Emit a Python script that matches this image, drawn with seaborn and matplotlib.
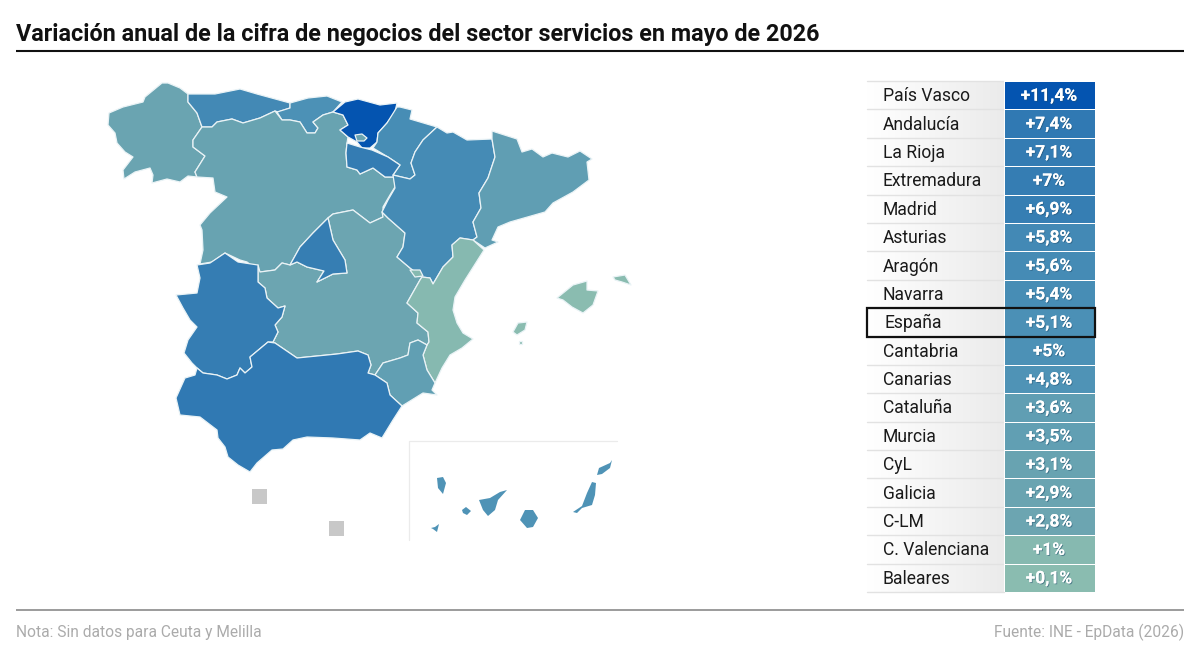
import numpy as np
import pandas as pd
import matplotlib
matplotlib.use("Agg")
import matplotlib.pyplot as plt
import matplotlib.patheffects as pe
from matplotlib.colors import LinearSegmentedColormap, Normalize
from matplotlib.patches import Polygon, Rectangle
import seaborn as sns

regions = ["País Vasco", "Andalucía", "La Rioja", "Extremadura", "Madrid", "Asturias", "Aragón", "Navarra", "España",
           "Cantabria", "Canarias", "Cataluña", "Murcia", "CyL", "Galicia", "C-LM", "C. Valenciana", "Baleares"]
values = [11.4, 7.4, 7.1, 7.0, 6.9, 5.8, 5.6, 5.4, 5.1, 5.0, 4.8, 3.6, 3.5, 3.1, 2.9, 2.8, 1.0, 0.1]
value_labels = ["+11,4%", "+7,4%", "+7,1%", "+7%", "+6,9%", "+5,8%", "+5,6%", "+5,4%", "+5,1%", "+5%", "+4,8%",
                "+3,6%", "+3,5%", "+3,1%", "+2,9%", "+2,8%", "+1%", "+0,1%"]

title = "Variación anual de la cifra de negocios del sector servicios en mayo de 2026"
note = "Nota: Sin datos para Ceuta y Melilla"
source = "Fuente: INE - EpData (2026)"

# Geographic outlines (image pixel frame)
galicia = [(162,83),(168,83),(180,88),(188,94),(188,102),(197,113),(202,127),(193,140),(193,147),(205,156),(195,172),(197,177),(188,176),(180,182),(167,179),(152,183),(153,175),(150,168),(135,172),(124,179),(123,170),(133,157),(125,152),(117,143),(115,133),(108,125),(109,113),(123,107),(143,102),(145,97)]
asturias = [(188,94),(215,94),(240,89),(257,94),(290,103),(290,108),(278,112),(275,111),(260,118),(243,123),(232,119),(217,122),(212,127),(202,127),(197,113),(188,102)]
cantabria = [(290,103),(308,98),(327,96),(342,102),(333,112),(323,115),(313,122),(318,128),(315,133),(307,133),(300,122),(290,120),(282,120),(277,112),(290,108)]
pais_vasco = [(333,112),(345,102),(358,99),(380,105),(397,103),(395,112),(387,123),(378,133),(377,142),(370,148),(362,148),(357,142),(348,137),(340,130),(348,125),(343,115)]
trevino = [(355,135),(362,134),(367,138),(364,141),(357,141)]
navarra = [(397,107),(400,107),(412,110),(410,119),(437,127),(423,140),(415,152),(411,163),(415,175),(410,179),(393,175),(400,165),(388,157),(373,148),(377,142),(378,133),(387,123)]
rioja = [(347,143),(360,147),(372,150),(388,157),(400,165),(393,175),(394,177),(385,177),(373,168),(360,174),(357,170),(347,167),(346,153)]
aragon = [(437,127),(447,133),(453,132),(467,140),(492,139),(495,157),(488,178),(479,193),(481,208),(473,222),(477,237),(473,240),(460,238),(452,245),(453,257),(443,267),(433,284),(430,278),(422,277),(410,268),(397,257),(403,247),(405,233),(388,218),(382,212),(388,200),(395,188),(393,175),(410,179),(415,175),(411,163),(415,152),(423,140)]
cataluna = [(492,131),(517,139),(522,152),(532,149),(543,157),(552,153),(568,157),(580,151),(592,159),(587,162),(589,180),(573,192),(553,203),(545,212),(510,222),(498,227),(492,240),(498,242),(485,248),(473,240),(477,237),(473,222),(481,208),(479,193),(488,178),(495,157),(492,139)]
valencia = [(460,238),(473,240),(484,250),(465,280),(455,297),(453,310),(457,323),(463,333),(473,339),(462,348),(450,355),(442,368),(435,383),(427,370),(423,355),(427,345),(429,342),(428,332),(417,323),(418,313),(407,303),(420,280),(422,277),(430,278),(433,284),(443,267),(453,257),(452,245)]
ademuz = [(410,270),(420,270),(423,276),(415,277)]
murcia = [(435,383),(432,390),(437,395),(423,393),(402,406),(390,395),(387,383),(375,375),(383,363),(400,358),(408,355),(410,343),(418,340),(427,345),(423,355),(427,370)]
andalucia = [(197,368),(203,373),(217,375),(227,379),(237,375),(240,368),(245,373),(252,367),(250,357),(268,342),(275,343),(297,358),(317,356),(337,354),(358,351),(368,355),(371,365),(368,373),(375,375),(387,383),(390,395),(402,406),(393,420),(382,438),(370,433),(360,440),(333,438),(307,437),(293,440),(283,449),(272,450),(257,463),(250,472),(238,465),(228,457),(225,447),(218,438),(217,430),(200,417),(180,415),(176,398),(185,378),(195,375)]
extremadura = [(197,265),(210,263),(225,253),(238,262),(258,265),(258,282),(265,288),(267,298),(278,308),(285,306),(282,317),(275,325),(278,332),(273,342),(268,342),(250,357),(252,367),(245,373),(240,368),(237,375),(227,379),(217,375),(203,373),(197,368),(192,363),(184,353),(188,340),(197,327),(190,320),(183,308),(176,295),(197,293),(200,278)]
cyl = [(202,127),(212,127),(217,122),(232,119),(243,123),(260,118),(275,111),(282,120),(290,120),(300,122),(307,133),(315,133),(318,128),(313,122),(323,115),(333,112),(343,115),(348,125),(340,130),(348,137),(347,143),(346,153),(347,167),(357,170),(360,174),(373,168),(385,177),(394,177),(395,187),(390,195),(383,207),(383,217),(370,223),(353,210),(333,214),(328,218),(313,233),(300,247),(290,265),(282,263),(275,270),(260,272),(247,262),(240,260),(225,253),(212,262),(200,264),(203,250),(202,230),(200,225),(210,213),(227,197),(215,192),(213,178),(197,177),(195,172),(205,156),(193,147),(193,140)]
madrid = [(328,218),(333,240),(345,260),(347,273),(333,274),(317,282),(324,271),(307,267),(297,262),(290,265),(300,247),(313,233)]
clm = [(328,218),(333,214),(353,210),(370,223),(383,217),(382,212),(388,218),(405,233),(403,247),(397,257),(410,268),(422,277),(420,280),(407,303),(418,313),(417,323),(428,332),(429,342),(427,345),(418,340),(410,343),(408,355),(400,358),(383,363),(375,375),(368,373),(371,365),(368,355),(358,351),(337,354),(317,356),(297,358),(275,343),(273,342),(278,332),(275,325),(282,317),(285,306),(278,308),(267,298),(265,288),(258,282),(258,265),(260,272),(275,270),(282,263),(290,265),(297,262),(307,267),(324,271),(317,282),(333,274),(347,273),(345,260),(333,240)]
mallorca = [(557,298),(573,285),(587,281),(587,290),(598,291),(593,305),(583,313),(572,307),(563,300)]
menorca = [(613,277),(625,275),(631,285),(622,282),(615,280)]
ibiza = [(513,332),(518,323),(527,322),(525,330),(517,335)]
formentera = [(519,341),(522,341),(522,344),(519,344)]
la_palma = [(437,478),(443,477),(446,483),(443,494),(438,488)]
gomera = [(462,510),(466,507),(471,511),(467,515),(463,513)]
hierro = [(431,528),(435,527),(439,524),(437,532),(433,529)]
tenerife = [(479,500),(490,498),(500,492),(507,490),(498,500),(495,510),(488,516),(483,510)]
gran_canaria = [(525,510),(533,510),(538,518),(533,527),(527,528),(520,520)]
fuerteventura = [(592,482),(596,483),(595,495),(592,505),(582,508),(577,513),(573,512),(582,506),(587,493)]
lanzarote = [(597,475),(599,468),(610,463),(612,460),(610,468),(602,474)]
ceuta = [(252,489),(267,489),(267,504),(252,504)]
melilla = [(329,521),(344,521),(344,536),(329,536)]

map_shapes = [("Galicia", galicia), ("Asturias", asturias), ("Cantabria", cantabria), ("CyL", cyl),
              ("País Vasco", pais_vasco), ("CyL", trevino), ("Navarra", navarra), ("La Rioja", rioja), ("C-LM", clm),
              ("Madrid", madrid), ("Aragón", aragon), ("Cataluña", cataluna), ("C. Valenciana", valencia),
              ("C. Valenciana", ademuz), ("Murcia", murcia), ("Extremadura", extremadura), ("Andalucía", andalucia),
              ("Baleares", mallorca), ("Baleares", menorca), ("Baleares", ibiza), ("Baleares", formentera)]
canary_shapes = [la_palma, gomera, hierro, tenerife, gran_canaria, fuerteventura, lanzarote]

cmap = LinearSegmentedColormap.from_list("seq", [(0.0, "#8abcb0"), (0.08, "#86b9b0"), (0.25, "#6aa4b1"),
                                                 (0.42, "#4e93b6"), (0.61, "#357db3"), (1.0, "#0454b0")])
norm = Normalize(0.1, 11.4)
value_of = dict(zip(regions, values))

W, H = 1200, 662
sns.set_style("white")
plt.rcParams["font.family"] = ["Roboto", "DejaVu Sans"]
fig = plt.figure(figsize=(W / 100, H / 100), dpi=100, facecolor="white")
ax = fig.add_axes([0, 0, 1, 1])
ax.set_xlim(0, W)
ax.set_ylim(H, 0)
ax.axis("off")

# header and footer
ax.text(16, 34, title, fontsize=16.85, fontweight="bold", color="#111111", va="center", ha="left")
ax.plot([16, 1184], [50.5, 50.5], color="#111111", lw=1.5, solid_capstyle="butt")
ax.plot([16, 1184], [610, 610], color="#8a8a8a", lw=1.2, solid_capstyle="butt")
ax.text(16, 632.5, note, fontsize=11.2, color="#ababab", va="center", ha="left")
ax.text(1184, 632.5, source, fontsize=11.2, color="#ababab", va="center", ha="right")

# map
for name, shape in map_shapes:
    ax.add_patch(Polygon(shape, closed=True, facecolor=cmap(norm(value_of[name])), edgecolor="#eaf3f6", lw=0.9, joinstyle="round"))
for shape in canary_shapes:
    ax.add_patch(Polygon(shape, closed=True, facecolor=cmap(norm(value_of["Canarias"])), edgecolor="none"))
for shape in (ceuta, melilla):
    ax.add_patch(Polygon(shape, closed=True, facecolor="#c8c8c8", edgecolor="none"))
ax.plot([617, 409, 409], [441, 441, 540], color="#ebebeb", lw=0.9)

# table
x0, x1, x2 = 867, 1003.5, 1094.5
y0, y1 = 81, 592
row_h = (y1 - y0) / len(regions)
gradient = np.linspace(0, 1, 256).reshape(1, -1)
grey = LinearSegmentedColormap.from_list("g", ["#ffffff", "#ebebeb"])
ax.imshow(gradient, extent=[x0, x1, y1, y0], aspect="auto", cmap=grey, zorder=1)
ax.set_xlim(0, W)
ax.set_ylim(H, 0)
for i, name in enumerate(regions):
    yy = y0 + i * row_h
    ax.plot([x0, x1], [yy, yy], color="#e2e2e2", lw=1, zorder=2)
    ax.text(x0 + (18 if name == "España" else 16), yy + row_h / 2 + 1, name, fontsize=12.65, color="#1a1a1a",
            va="center", ha="left", zorder=3)
ax.plot([x0, x1], [y1, y1], color="#e2e2e2", lw=1, zorder=2)

df = pd.DataFrame({"valor": values}, index=regions)
hax = fig.add_axes([x1 / W, 1 - y1 / H, (x2 - x1) / W, (y1 - y0) / H])
sns.heatmap(df, ax=hax, cmap=cmap, norm=norm, cbar=False, linewidths=0.7, linecolor="white",
            annot=np.array(value_labels).reshape(-1, 1), fmt="", xticklabels=False, yticklabels=False,
            annot_kws={"fontsize": 12.5, "fontweight": "bold", "color": "white"})
hax.set_xlabel("")
hax.set_ylabel("")
for t in hax.texts:
    t.set_color("white")
    t.set_y(t.get_position()[1] + 0.035)
    t.set_path_effects([pe.withSimplePatchShadow(offset=(0.7, -0.7), shadow_rgbFace="#24506e", alpha=0.55), pe.Normal()])

# highlighted national row
row = regions.index("España")
top = y0 + row * row_h
ov = fig.add_axes([0, 0, 1, 1], facecolor="none")
ov.set_xlim(0, W)
ov.set_ylim(H, 0)
ov.axis("off")
ov.add_patch(Rectangle((x0, top), x2 - x0, row_h, fill=False, edgecolor="#111111", lw=1.6))

fig.savefig("out.png", dpi=100)
